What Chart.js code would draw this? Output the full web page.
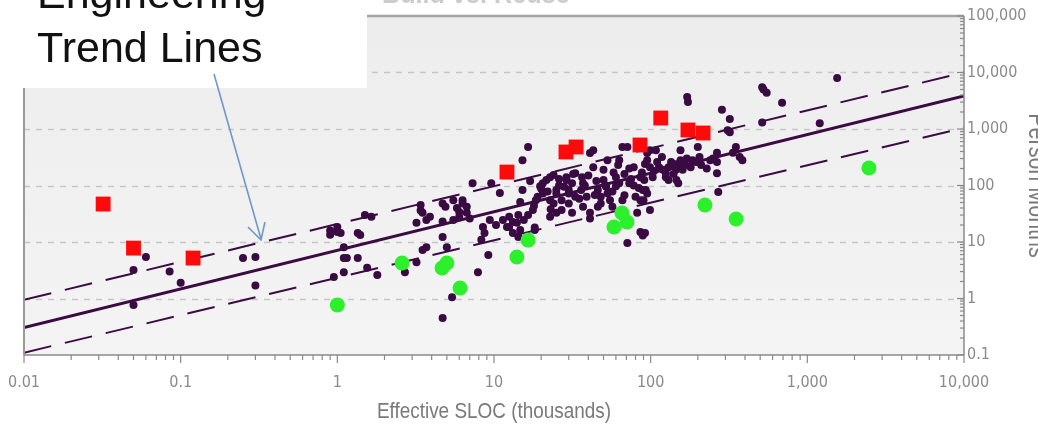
<!DOCTYPE html>
<html>
<head>
<meta charset="utf-8">
<script src="https://cdn.jsdelivr.net/npm/chart.js@4/dist/chart.umd.min.js"></script>
<style>
  html, body { margin: 0; padding: 0; background: #fff; }
  canvas { display: block; }
</style>
</head>
<body>
<canvas id="sloc" width="1038" height="425"></canvas>
<script>
// tick labels
const xTickLabels = ['0.01', '0.1', '1', '10', '100', '1,000', '10,000'];
const yTickLabels = ['0.1', '1', '10', '100', '1,000', '10,000', '100,000'];

// red squares
const redX = [0.032, 0.05, 0.12, 12.1, 28.8, 33.4, 85.5, 116, 173, 216];
const redY = [47, 7.8, 5.2, 173, 392, 480, 521, 1566, 960, 849];

// green circles
const greenX = [1.0, 2.59, 4.66, 5.0, 6.07, 14.0, 16.5, 58.3, 65.6, 70.6, 222, 351, 2473];
const greenY = [0.77, 4.25, 3.47, 4.25, 1.53, 5.43, 10.8, 18.4, 32.6, 22.6, 45.2, 25.5, 204];

// historical projects (small dots)
const dotX = [
  0.06, 0.05, 0.05, 0.085, 0.1, 0.25, 0.3, 0.3, 0.9, 1.0, 0.9, 1.1, 0.95, 1.1, 1.1, 1.0, 1.05, 1.15, 1.35, 1.35,
  1.5, 1.65, 1.55, 1.8, 2.7, 3.2, 1.4,
  3.4, 3.5, 3.7, 3.9, 3.7, 3.5, 4.7, 5.0, 4.9, 5.5, 5.8, 6.3, 6.0, 6.7, 7.3, 5.4, 4.7, 9.2, 7.9, 8.5, 8.7, 8.3, 9.4,
  9.6, 10.9, 10.3, 11.4, 12.1, 13.2, 14.3, 13.2, 14.3, 14.7, 15.2, 15.2, 16.5, 17.7, 18.2, 19, 19.7, 20.5, 21.6, 22,
  22.8, 24, 25, 26, 27, 29, 30, 31.5, 33, 36, 36.5, 41, 43, 41, 46, 48, 50, 51.5, 53, 55,
  57, 60, 63, 66, 68, 73, 78, 82, 86, 89, 71, 91, 95, 99, 103, 113, 118, 125, 130, 146,
  150, 155, 160, 170, 173,
  4.7, 6.3, 6.7, 6.0, 3.4, 3.2, 4.7, 5.5, 7, 12.5, 14, 15.5, 16.5, 18.5, 20.5, 25, 24, 22.8, 14.7, 12.5, 18.2,
  43, 71, 86, 25, 30, 37,
  171, 285, 320, 310, 320, 515, 550, 525, 690, 515, 1200, 1550, 350, 370, 385, 335, 265, 265, 240, 228,
  265, 270, 200, 205, 185, 155, 145, 140, 125, 108, 130, 93, 90, 95, 92, 150,
  22.8, 29, 30, 33, 37, 39, 46, 48, 50, 53, 57, 60, 63, 66, 73, 78, 80, 86, 89, 95, 99, 99, 31.5, 27, 41,
  40, 45, 52, 58, 62, 68, 75, 84, 88, 92, 105, 110, 120, 135, 140, 165, 180, 195, 210, 250,
  28, 32, 35, 44, 20, 18, 17, 23, 26, 38
];
const dotY = [
  5.4, 3.2, 0.77, 3.0, 1.9, 5.2, 5.4, 1.7, 16, 15, 13.5, 8.1, 2.4, 2.9, 5.2, 18.5, 14.5, 5.2, 5.2, 14.5,
  30, 28, 3.5, 2.6, 2.9, 4.4, 13.3,
  45, 33, 24.5, 28, 8.1, 7.2, 12.3, 8.1, 42, 55, 40, 48, 28, 33, 110, 1.05, 0.45, 5.9, 2.9, 18.4, 14.5, 11, 24.5,
  110, 74, 20, 24.5, 18.4, 22.5, 30, 14.5, 12.3, 51, 83, 280, 480, 37, 18, 63, 97, 110, 125, 78,
  55, 153, 72, 100, 55, 140, 83, 110, 63, 83, 140, 375, 210, 26, 42, 63, 190, 100, 280, 55,
  78, 140, 110, 480, 67, 200, 100, 33, 55, 13, 9.6, 125, 280, 420, 140, 210, 320, 140, 210, 125,
  240, 420, 190, 300, 3000,
  48, 55, 42, 34, 36, 22, 23, 24.5, 26, 28, 22, 24.5, 30, 55, 72, 83, 48, 28, 16.3, 18.4, 16.3,
  420, 480, 15, 33, 48, 42,
  3700, 2200, 1500, 950, 880, 5500, 4400, 5000, 2900, 1300, 1270, 8000, 480, 320, 280, 380, 380, 260, 280, 200,
  165, 77, 480, 320, 280, 280, 190, 240, 165, 420, 125, 83, 55, 72, 14.5, 110,
  140, 125, 72, 165, 110, 63, 83, 48, 125, 72, 42, 97, 280, 55, 110, 210, 63, 140, 83, 375, 210, 37, 33, 37, 33,
  150, 120, 95, 170, 230, 160, 130, 90, 170, 240, 180, 260, 190, 260, 160, 230, 210, 260, 230, 300,
  95, 160, 58, 68, 88, 44, 120, 38, 130, 100
];

// trend lines (nominal and +/- band)
const trendX = [0.01, 10000];
const trendMid = [0.307, 3840];
const trendHigh = [0.95, 10000];
const trendLow = [0.11, 1050];

const pairs = (xs, ys) => xs.map((x, i) => ({ x, y: ys[i] }));
const isPow10 = v => Math.abs(Math.log10(v) - Math.round(Math.log10(v))) < 1e-6;
const NARROW = "'Liberation Sans Narrow', 'DejaVu Sans Condensed', Arial, sans-serif";

function logTicks(scale) {
  const ticks = [];
  const lo = Math.round(Math.log10(scale.min));
  const hi = Math.round(Math.log10(scale.max));
  for (let e = lo; e <= hi; e++) {
    for (let m = 1; m <= 9; m++) {
      const v = parseFloat((m * Math.pow(10, e)).toPrecision(6));
      if (v > scale.max * 1.0001) break;
      ticks.push({ value: v });
    }
  }
  scale.ticks = ticks;
}

// narrow text: squeeze horizontally
function narrowText(ctx, text, x, y, sx) {
  ctx.save();
  ctx.translate(x, y);
  ctx.scale(sx, 1);
  ctx.fillText(text, 0, 0);
  ctx.restore();
}

const decor = {
  id: 'decor',
  beforeDatasetsDraw(chart) {
    const { ctx, chartArea: a, scales: { y } } = chart;
    ctx.save();
    const g = ctx.createLinearGradient(0, a.top, 0, a.bottom);
    g.addColorStop(0, '#ededed');
    g.addColorStop(1, '#f4f4f4');
    ctx.fillStyle = g;
    ctx.fillRect(a.left, a.top, a.right - a.left, a.bottom - a.top);
    ctx.strokeStyle = '#c6c6c6';
    ctx.lineWidth = 1.5;
    ctx.setLineDash([6, 6]);
    y.ticks.forEach(t => {
      if (!isPow10(t.value) || t.value <= y.min || t.value >= y.max) return;
      const py = Math.round(y.getPixelForValue(t.value)) + 0.5;
      ctx.beginPath();
      ctx.moveTo(a.left, py);
      ctx.lineTo(a.right, py);
      ctx.stroke();
    });
    ctx.restore();
  },
  afterDatasetsDraw(chart) {
    const { ctx, chartArea: a, scales: { x, y } } = chart;
    ctx.save();
    // frame
    ctx.strokeStyle = '#a4a4a4';
    ctx.lineWidth = 2.5;
    ctx.beginPath(); ctx.moveTo(a.left, a.top); ctx.lineTo(a.right, a.top); ctx.stroke();
    ctx.lineWidth = 2;
    ctx.strokeStyle = '#9a9a9a';
    ctx.beginPath(); ctx.moveTo(a.left, a.top); ctx.lineTo(a.left, a.bottom); ctx.stroke();
    ctx.strokeStyle = '#8a8a8a';
    ctx.lineWidth = 1.5;
    ctx.beginPath(); ctx.moveTo(a.left, a.bottom); ctx.lineTo(a.right, a.bottom); ctx.stroke();
    ctx.beginPath(); ctx.moveTo(a.right, a.top); ctx.lineTo(a.right, a.bottom); ctx.stroke();
    // tick marks
    ctx.lineWidth = 1.2;
    x.ticks.forEach(t => {
      const px = x.getPixelForValue(t.value);
      const len = isPow10(t.value) ? 8 : 5;
      ctx.beginPath(); ctx.moveTo(px, a.bottom); ctx.lineTo(px, a.bottom + len); ctx.stroke();
    });
    y.ticks.forEach(t => {
      const py = y.getPixelForValue(t.value);
      const len = isPow10(t.value) ? 7 : 4;
      ctx.beginPath(); ctx.moveTo(a.right - len, py); ctx.lineTo(a.right, py); ctx.stroke();
    });
    ctx.restore();
  },
  afterDraw(chart) {
    const { ctx, chartArea: a } = chart;
    ctx.save();
    // axis titles
    ctx.fillStyle = '#7a7a7a';
    ctx.font = '22px "Liberation Sans", Arial, sans-serif';
    ctx.textAlign = 'center';
    ctx.textBaseline = 'middle';
    narrowText(ctx, 'Effective SLOC (thousands)', (a.left + a.right) / 2, 412, 0.86);
    ctx.save();
    ctx.translate(1036, (a.top + a.bottom) / 2);
    ctx.rotate(Math.PI / 2);
    ctx.font = '25px "Liberation Sans", Arial, sans-serif';
    narrowText(ctx, 'Person Months', 0, 0, 0.86);
    ctx.restore();
    // cut-off heading at the top
    ctx.fillStyle = '#cccccc';
    ctx.font = 'bold 28px "Liberation Sans", Arial, sans-serif';
    ctx.textAlign = 'left';
    ctx.textBaseline = 'alphabetic';
    narrowText(ctx, 'Build vs. Reuse', 382, 3, 0.9);
    // callout box
    ctx.fillStyle = '#ffffff';
    ctx.fillRect(0, 0, 367, 88);
    ctx.fillStyle = '#111';
    ctx.font = '43px "Liberation Sans", Arial, sans-serif';
    ctx.fillText('Engineering', 37, 8);
    ctx.fillText('Trend Lines', 37, 62);
    // arrow
    ctx.strokeStyle = '#6f98c8';
    ctx.lineWidth = 1.6;
    ctx.beginPath(); ctx.moveTo(214, 74); ctx.lineTo(261, 239); ctx.stroke();
    ctx.beginPath(); ctx.moveTo(248, 227); ctx.lineTo(261, 240); ctx.lineTo(265, 222); ctx.stroke();
    ctx.restore();
  }
};

const dashStyle = { borderColor: '#3c0b44', borderWidth: 2, borderDash: [28, 14], pointRadius: 0, fill: false, order: 4 };

new Chart(document.getElementById('sloc'), {
  type: 'scatter',
  data: {
    datasets: [
      { label: 'High', type: 'line', data: pairs(trendX, trendHigh), ...dashStyle },
      { label: 'Low', type: 'line', data: pairs(trendX, trendLow), ...dashStyle },
      { label: 'Nominal', type: 'line', data: pairs(trendX, trendMid), borderColor: '#3c0b44', borderWidth: 3,
        pointRadius: 0, fill: false, order: 4 },
      { label: 'History', data: pairs(dotX, dotY), pointStyle: 'circle', pointRadius: 4,
        backgroundColor: '#3a0a42', borderWidth: 0, order: 3 },
      { label: 'Green', data: pairs(greenX, greenY), pointStyle: 'circle', pointRadius: 7.5,
        backgroundColor: '#2cf02c', borderWidth: 0, order: 2 },
      { label: 'Red', data: pairs(redX, redY), pointStyle: 'rect', pointRadius: 10.5,
        backgroundColor: '#ff0a0a', borderWidth: 0, order: 1 }
    ]
  },
  options: {
    responsive: false,
    animation: false,
    events: [],
    layout: { padding: { left: 24, top: 16, right: 0, bottom: 0 } },
    plugins: { legend: { display: false }, tooltip: { enabled: false } },
    scales: {
      x: {
        type: 'logarithmic', min: 0.01, max: 10000, position: 'bottom',
        afterBuildTicks: logTicks,
        afterFit: s => { s.height = 70; s.paddingLeft = 0; s.paddingRight = 0; },
        grid: { display: false, drawTicks: false },
        border: { display: false },
        ticks: {
          autoSkip: false, maxRotation: 0, padding: 18, color: '#8a8a8a',
          font: { family: NARROW, size: 16 },
          callback: v => isPow10(v) ? xTickLabels[Math.round(Math.log10(v)) + 2] : ''
        }
      },
      y: {
        type: 'logarithmic', min: 0.1, max: 100000, position: 'right',
        afterBuildTicks: logTicks,
        afterFit: s => { s.width = 74; s.paddingTop = 0; s.paddingBottom = 0; },
        grid: { display: false, drawTicks: false },
        border: { display: false },
        ticks: {
          autoSkip: false, padding: 3, color: '#8a8a8a',
          font: { family: NARROW, size: 16 },
          callback: v => isPow10(v) ? yTickLabels[Math.round(Math.log10(v)) + 1] : ''
        }
      }
    }
  },
  plugins: [decor]
});
</script>
</body>
</html>
